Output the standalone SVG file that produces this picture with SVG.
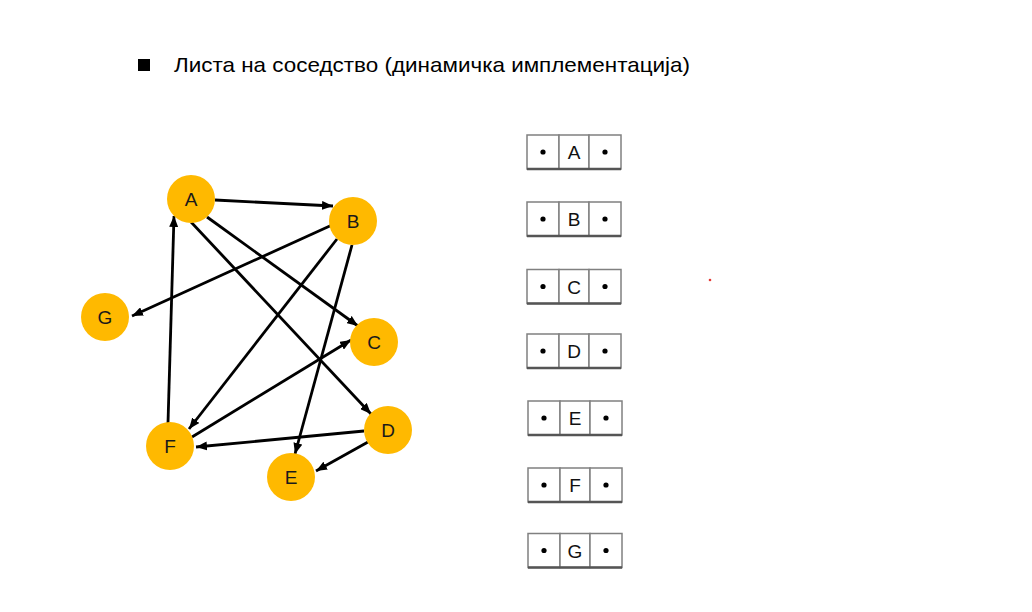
<svg xmlns="http://www.w3.org/2000/svg" width="1032" height="612" viewBox="0 0 1032 612">
<style>
.node circle{fill:#FFB900}
.node text{font-family:"Liberation Sans",Arial,sans-serif;font-size:19px;fill:#1a1a1a;text-anchor:middle}
.edge{stroke:#000;stroke-width:2.8;fill:none;marker-end:url(#ah)}
.cell{fill:#fff;stroke:#808080;stroke-width:1.5}
.base{stroke:#555;stroke-width:2.5}
.lbl{font-family:"Liberation Sans",Arial,sans-serif;font-size:19px;fill:#111;text-anchor:middle}
.dot{fill:#000}
.title{font-family:"Liberation Sans",Arial,sans-serif;font-size:21px;fill:#000}
</style>
<defs>
<marker id="ah" markerUnits="userSpaceOnUse" markerWidth="11" markerHeight="9" refX="11" refY="4.5" orient="auto">
<path d="M0,0 L11,4.5 L0,9 z" fill="#000"/>
</marker>
<g id="rec">
<rect class="cell" x="0" y="0" width="32" height="34"/>
<rect class="cell" x="32" y="0" width="30" height="34"/>
<rect class="cell" x="62" y="0" width="32" height="34"/>
<line class="base" x1="0" y1="34" x2="94" y2="34"/>
<circle class="dot" cx="16" cy="17" r="2.6"/>
<circle class="dot" cx="78" cy="17" r="2.6"/>
</g>
</defs>
<rect width="1032" height="612" fill="#fff"/>
<g id="title">
<rect x="138" y="59" width="12" height="12" fill="#000"/>
<text class="title" x="174" y="72" textLength="516" lengthAdjust="spacingAndGlyphs">Листа на соседство (динамичка имплементација)</text>
</g>
<g id="edges">
<line class="edge" x1="215" y1="200" x2="333" y2="206"/>
<line class="edge" x1="207" y1="217" x2="358" y2="326"/>
<line class="edge" x1="191" y1="222" x2="371" y2="414"/>
<line class="edge" x1="332" y1="225" x2="132" y2="316"/>
<line class="edge" x1="337" y1="239" x2="189" y2="429"/>
<line class="edge" x1="352" y1="245" x2="295" y2="454"/>
<line class="edge" x1="168" y1="423" x2="174" y2="216"/>
<line class="edge" x1="192" y1="437" x2="351" y2="340"/>
<line class="edge" x1="364" y1="431" x2="196" y2="447"/>
<line class="edge" x1="368" y1="442" x2="316" y2="471"/>
</g>
<g id="A" class="node"><circle cx="191" cy="199" r="24"/><text x="191" y="205.5">A</text></g>
<g id="B" class="node"><circle cx="353" cy="221" r="24"/><text x="353" y="227.5">B</text></g>
<g id="G" class="node"><circle cx="105" cy="317" r="24"/><text x="105" y="323.5">G</text></g>
<g id="C" class="node"><circle cx="374" cy="342" r="24"/><text x="374" y="348.5">C</text></g>
<g id="D" class="node"><circle cx="388" cy="430" r="24"/><text x="388" y="436.5">D</text></g>
<g id="F" class="node"><circle cx="170" cy="446" r="24"/><text x="170" y="452.5">F</text></g>
<g id="E" class="node"><circle cx="291" cy="477" r="24"/><text x="291" y="483.5">E</text></g>
<g id="listA"><use href="#rec" x="527" y="135"/><text class="lbl" x="574" y="159">A</text></g>
<g id="listB"><use href="#rec" x="527" y="202"/><text class="lbl" x="574" y="226">B</text></g>
<g id="listC"><use href="#rec" x="527" y="269.5"/><text class="lbl" x="574" y="293.5">C</text></g>
<g id="listD"><use href="#rec" x="527" y="334"/><text class="lbl" x="574" y="358">D</text></g>
<g id="listE"><use href="#rec" x="528" y="401"/><text class="lbl" x="575" y="425">E</text></g>
<g id="listF"><use href="#rec" x="528" y="468"/><text class="lbl" x="575" y="492">F</text></g>
<g id="listG"><use href="#rec" x="528" y="533.5"/><text class="lbl" x="575" y="557.5">G</text></g>
<circle cx="710" cy="280" r="1.3" fill="#e53935"/>
</svg>
